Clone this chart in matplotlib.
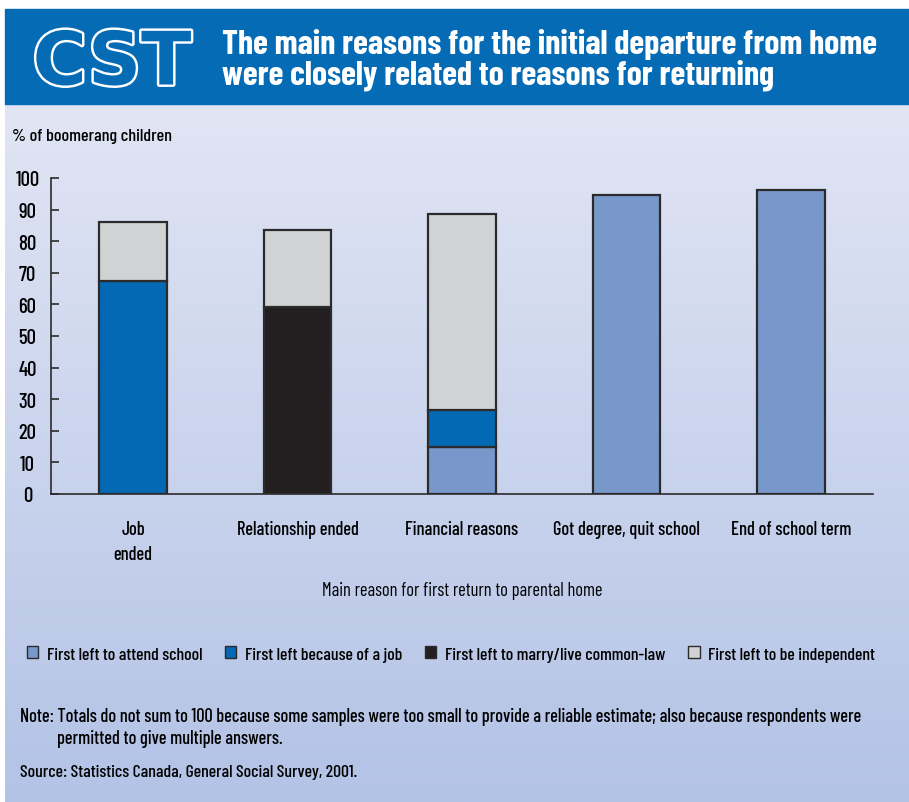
import numpy as np
import matplotlib
matplotlib.use('Agg')
import matplotlib.pyplot as plt
import matplotlib.patheffects as pe
from matplotlib.patches import Rectangle, Patch
from matplotlib import font_manager

# data
categories = ['Job\nended', 'Relationship ended', 'Financial reasons',
              'Got degree, quit school', 'End of school term']
school = [0, 0, 15, 94.7, 96.3]
job = [67.3, 0, 11.5, 0, 0]
marry = [0, 59.1, 0, 0, 0]
independent = [18.9, 24.6, 62.2, 0, 0]
series_names = ['First left to attend school', 'First left because of a job',
                'First left to marry/live common-law', 'First left to be independent']
yticks = list(range(0, 101, 10))

colors = ['#7898cc', '#0369b4', '#231f20', '#d1d2d4']
EDGE = '#2b2b2b'
HEADER = '#066bb5'

names = {f.name for f in font_manager.fontManager.ttflist}
FONT = 'Barlow Condensed' if 'Barlow Condensed' in names else 'DejaVu Sans'
plt.rcParams['font.family'] = [FONT, 'DejaVu Sans']
plt.rcParams['font.weight'] = 500

fig = plt.figure(figsize=(9.09, 8.03), dpi=100)

# background gradient + header band
bg = fig.add_axes([0, 0, 1, 1], zorder=-10)
grad = np.linspace(0, 1, 256).reshape(-1, 1)
top = np.array([0xe1, 0xe5, 0xf4]) / 255
bot = np.array([0xb3, 0xc3, 0xe6]) / 255
img = top + (bot - top) * grad[:, :, None]
bg.imshow(img, aspect='auto', extent=[5 / 909, 1, 0, 1 - 105 / 803])
bg.add_patch(Rectangle((5 / 909, 1 - 105 / 803), 1, 95 / 803, color=HEADER))
bg.set_xlim(0, 1)
bg.set_ylim(0, 1)
bg.axis('off')

# header
fig.text(112 / 909, 1 - 65 / 803, 'CST', color=HEADER, fontsize=53, fontweight='bold',
         family='DejaVu Sans', ha='center', va='center',
         path_effects=[pe.withStroke(linewidth=3.5, foreground='white')])
fig.text(222 / 909, 1 - 60 / 803,
         'The main reasons for the initial departure from home\nwere closely related to reasons for returning',
         color='white', fontsize=24.5, fontweight='bold', ha='left', va='center',
         linespacing=1.0)

ax = fig.add_axes([51 / 909, 1 - 495 / 803, 822 / 909, 316 / 803])
ax.patch.set_alpha(0)
x = np.arange(len(categories))
bottom = np.zeros(len(categories))
for vals, c in zip([school, job, marry, independent], colors):
    vals = np.array(vals)
    mask = vals > 0
    ax.bar(x[mask], vals[mask], 0.41, bottom=bottom[mask], color=c,
           edgecolor=EDGE, linewidth=1.6)
    bottom += vals

ax.set_xlim(-0.5, 4.5)
ax.set_ylim(0, 100)
ax.set_yticks(yticks)
ax.set_xticks(x)
ax.set_xticklabels(categories, fontsize=13.3, linespacing=1.45)
ax.tick_params(axis='x', length=0, pad=19)
ax.tick_params(axis='y', direction='in', length=6, width=1.2, labelsize=15, pad=17,
               color=EDGE)
for lbl in ax.get_yticklabels():
    lbl.set_horizontalalignment('center')
ax.spines['top'].set_visible(False)
ax.spines['right'].set_visible(False)
for s in ('left', 'bottom'):
    ax.spines[s].set_linewidth(1.2)
    ax.spines[s].set_color(EDGE)
ax.set_xlabel('Main reason for first return to parental home', fontsize=13.3, labelpad=13)

fig.text(12 / 909, 1 - 137 / 803, '% of boomerang children', fontsize=13, va='center')

handles = [Patch(facecolor=c, edgecolor=EDGE, linewidth=1) for c in colors]
fig.legend(handles, series_names, loc='center', bbox_to_anchor=(451 / 909, 1 - 655 / 803),
           ncol=4, frameon=False, fontsize=12.8, handlelength=0.65, handleheight=0.65,
           handletextpad=0.5, columnspacing=1.25)

fig.text(20 / 909, 1 - 717 / 803,
         'Note: Totals do not sum to 100 because some samples were too small to provide a reliable estimate; also because respondents were',
         fontsize=13.2, va='center')
fig.text(57 / 909, 1 - 739 / 803, 'permitted to give multiple answers.', fontsize=13.2, va='center')
fig.text(20 / 909, 1 - 773 / 803, 'Source: Statistics Canada, General Social Survey, 2001.',
         fontsize=12.8, va='center')

fig.savefig('out.png', dpi=100)
